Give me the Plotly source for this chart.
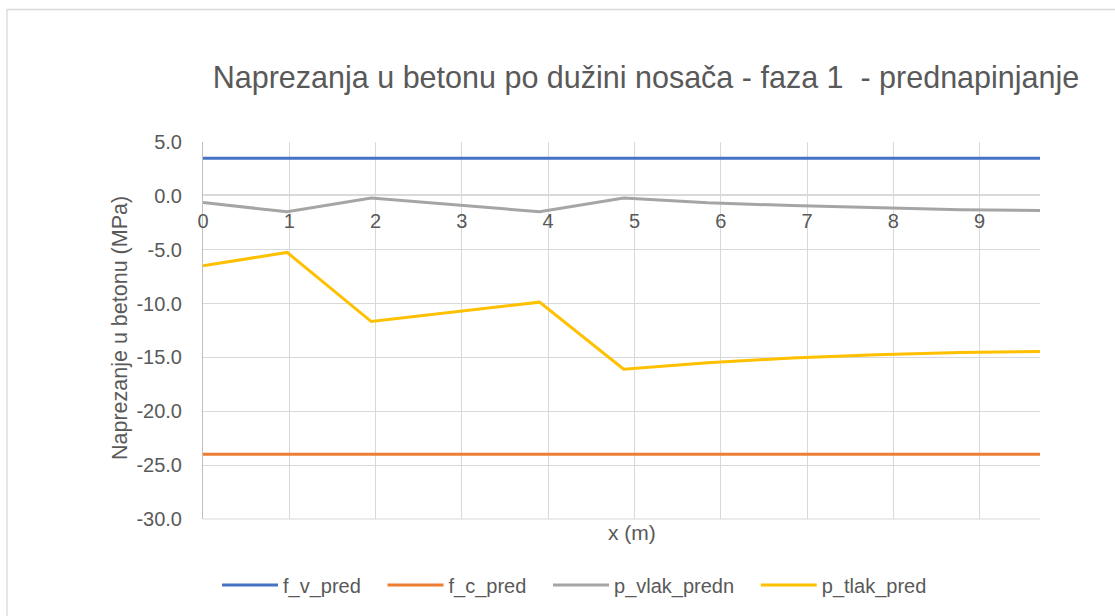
import plotly.graph_objects as go

# Positions along the girder (m): tenth-points of the span
x_pos = [0.0, 0.975, 1.95, 3.9, 4.875, 5.85, 6.825, 7.8, 8.775, 9.75]

# Allowable stresses (MPa)
f_v_pred = [3.5] * len(x_pos)
f_c_pred = [-24.0] * len(x_pos)

# Concrete stresses from prestressing (MPa)
p_vlak_predn = [-0.62, -1.48, -0.19, -1.48, -0.19, -0.65, -0.90, -1.12, -1.28, -1.36]
p_tlak_pred = [-6.5, -5.25, -11.67, -9.87, -16.1, -15.5, -15.05, -14.75, -14.55, -14.45]

series = [
    ("f_v_pred", f_v_pred, "#4472C4"),
    ("f_c_pred", f_c_pred, "#ED7D31"),
    ("p_vlak_predn", p_vlak_predn, "#A5A5A5"),
    ("p_tlak_pred", p_tlak_pred, "#FFC000"),
]

x_ticks = list(range(0, 10))
y_ticks = [5, 0, -5, -10, -15, -20, -25, -30]

FONT = "Liberation Sans, Arial, sans-serif"
TXT = "#595959"
GRID = "#D9D9D9"

# plot-area geometry (px) used for paper-coordinate placement
L, R, T, B = 203, 1040, 142, 519
W, H = R - L, B - T


def px_x(px):
    return (px - L) / W


def px_y(py):
    return (B - py) / H


# extra spacing after each legend entry
LEGEND_PAD = "\u00a0" * 3

fig = go.Figure()
for name, vals, col in series:
    fig.add_trace(go.Scatter(
        x=x_pos, y=vals, name=name + LEGEND_PAD, mode="lines",
        line=dict(color=col, width=3),
    ))

y_min, y_max = -30, 5
fig.update_layout(
    width=1115, height=616,
    margin=dict(l=L, r=1115 - R, t=T, b=616 - B),
    paper_bgcolor="white", plot_bgcolor="white",
    font=dict(family=FONT, color=TXT, size=20),
    title=dict(
        text="Naprezanja u betonu po dužini nosača - faza 1  - prednapinjanje",
        x=646 / 1115, xanchor="center", xref="container",
        y=1 - 77 / 616, yanchor="middle", yref="container",
        font=dict(size=30.5, color=TXT, family=FONT),
    ),
    xaxis=dict(
        range=[0, 9.7], tickvals=x_ticks, ticktext=[str(v) for v in x_ticks],
        showgrid=True, gridcolor=GRID, gridwidth=1,
        zeroline=False, showline=True, linecolor=GRID, linewidth=1,
        anchor="free", position=px_y(194),
        ticks="outside", ticklen=9, tickcolor="rgba(0,0,0,0)",
        tickfont=dict(size=20, color=TXT),
    ),
    yaxis=dict(
        range=[y_min, y_max], tickvals=y_ticks,
        ticktext=[f"{v:.1f}" for v in y_ticks],
        showgrid=True, gridcolor=GRID, gridwidth=1,
        zeroline=False, showline=True, linecolor="#BFBFBF", linewidth=1,
        ticks="", ticklabelstandoff=16,
        tickfont=dict(size=20, color=TXT),
    ),
    legend=dict(
        orientation="h", x=px_x(217), xanchor="left",
        y=px_y(585), yanchor="middle",
        font=dict(size=20, color=TXT),
        itemwidth=56,
        bgcolor="rgba(0,0,0,0)",
    ),
    annotations=[
        dict(text="x (m)", x=px_x(632), y=px_y(546), xref="paper", yref="paper",
             showarrow=False, font=dict(size=21, color=TXT)),
        dict(text="Naprezanje u betonu (MPa)", x=px_x(106), y=px_y(328),
             xref="paper", yref="paper", textangle=-90, showarrow=False,
             font=dict(size=21.5, color=TXT)),
    ],
    shapes=[
        dict(type="rect", xref="paper", yref="paper",
             x0=px_x(7), x1=px_x(1125), y0=px_y(630), y1=px_y(9.5),
             line=dict(color=GRID, width=1.3), fillcolor="rgba(0,0,0,0)",
             layer="below"),
        dict(type="line", xref="paper", yref="paper",
             x0=0, x1=1, y0=0, y1=0, line=dict(color=GRID, width=1),
             layer="below"),
    ],
)

fig.write_html("out.html")
